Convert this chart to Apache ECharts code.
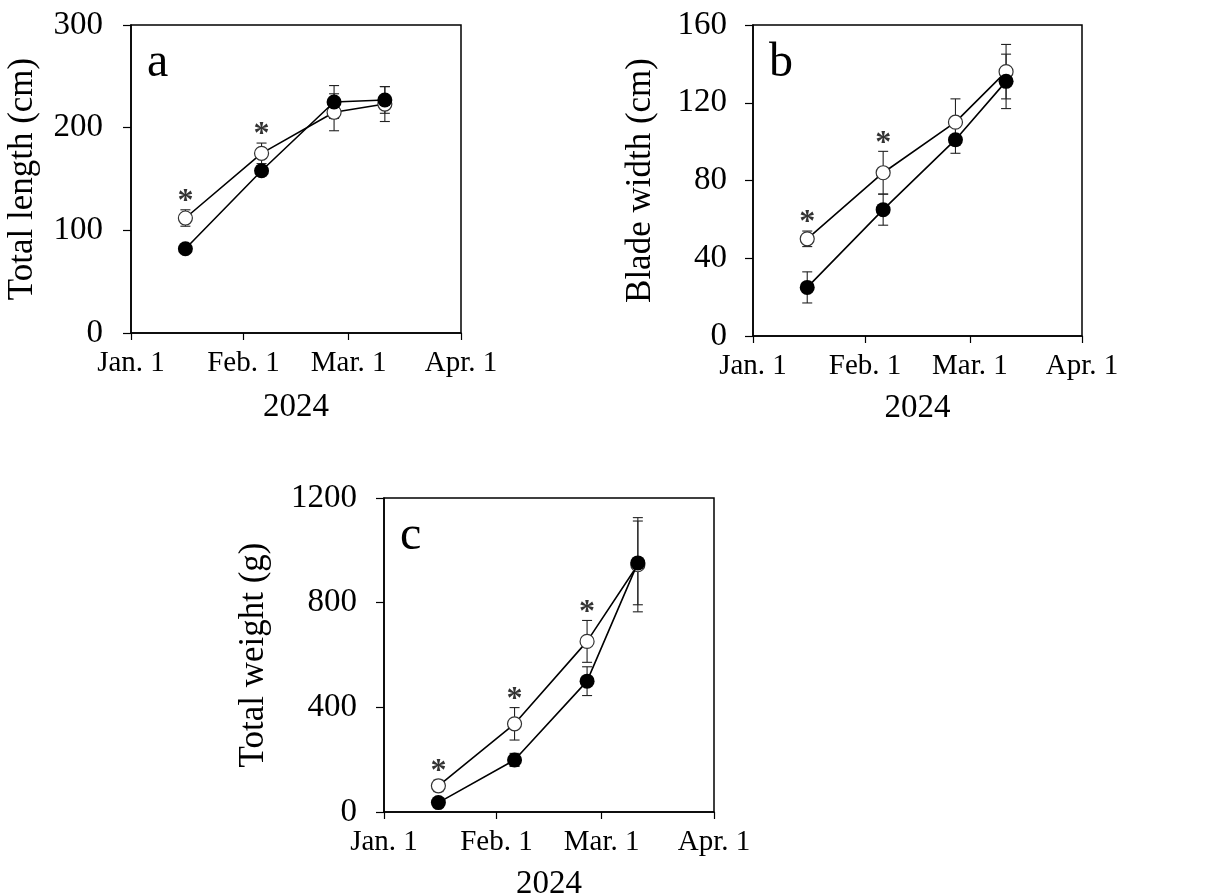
<!DOCTYPE html>
<html>
<head>
<meta charset="utf-8">
<script src="https://cdn.jsdelivr.net/npm/echarts@6/dist/echarts.min.js"></script>
<style>
  html, body { margin: 0; padding: 0; background: #fff; }
  #chart { width: 1208px; height: 895px; }
</style>
</head>
<body>
<div id="chart"></div>
<script>
// sampling dates, days after Jan. 1 2024
const sampleDays = [15, 36, 56, 70];
const xTickDays = [0, 31, 60, 91];
const xTickLabels = ['Jan. 1', 'Feb. 1', 'Mar. 1', 'Apr. 1'];

// a: total length (cm)
const lengthOpen = [112, 175, 215, 223];
const lengthOpenErr = [8, 10, 18, 17];
const lengthFilled = [82, 158, 225, 227];
const lengthFilledErr = [3, 5, 16, 13];
const lengthSig = [true, true, false, false];

// b: blade width (cm)
const widthOpen = [50, 84, 110, 136];
const widthOpenErr = [4, 11, 12, 14];
const widthFilled = [25, 65, 101, 131];
const widthFilledErr = [8, 8, 7, 14];
const widthSig = [true, true, false, false];

// c: total weight (g)
const weightOpen = [100, 337, 652, 945];
const weightOpenErr = [22, 62, 80, 180];
const weightFilled = [36, 199, 500, 952];
const weightFilledErr = [10, 25, 55, 160];
const weightSig = [true, true, true, false];

const font = '"Liberation Serif", "Times New Roman", serif';

const panels = [
  { letter: 'a', name: 'Total length (cm)', max: 300, step: 100,
    open: lengthOpen, openErr: lengthOpenErr, filled: lengthFilled, filledErr: lengthFilledErr, sig: lengthSig,
    grid: { left: 131, top: 25, width: 330, height: 308 }, nameGap: 91, labelMargin: 28, xNameGap: 58 },
  { letter: 'b', name: 'Blade width (cm)', max: 160, step: 40,
    open: widthOpen, openErr: widthOpenErr, filled: widthFilled, filledErr: widthFilledErr, sig: widthSig,
    grid: { left: 753, top: 25, width: 329, height: 311 }, nameGap: 95, labelMargin: 26, xNameGap: 56 },
  { letter: 'c', name: 'Total weight (g)', max: 1200, step: 400,
    open: weightOpen, openErr: weightOpenErr, filled: weightFilled, filledErr: weightFilledErr, sig: weightSig,
    grid: { left: 384, top: 498, width: 330, height: 314 }, nameGap: 113, labelMargin: 27, xNameGap: 56 }
];

const grids = [], xAxes = [], yAxes = [], series = [], titles = [];

function errorSeries(i, vals, errs) {
  return {
    type: 'custom', xAxisIndex: i, yAxisIndex: i, z: 1, silent: true,
    data: sampleDays.map((d, k) => [d, vals[k] - errs[k], vals[k] + errs[k]]),
    renderItem: function (params, api) {
      const lo = api.coord([api.value(0), api.value(1)]);
      const hi = api.coord([api.value(0), api.value(2)]);
      const w = 5;
      const st = { stroke: '#222', lineWidth: 1.1 };
      return { type: 'group', children: [
        { type: 'line', shape: { x1: lo[0], y1: lo[1], x2: hi[0], y2: hi[1] }, style: st },
        { type: 'line', shape: { x1: lo[0] - w, y1: lo[1], x2: lo[0] + w, y2: lo[1] }, style: st },
        { type: 'line', shape: { x1: hi[0] - w, y1: hi[1], x2: hi[0] + w, y2: hi[1] }, style: st }
      ] };
    }
  };
}

panels.forEach(function (p, i) {
  grids.push(Object.assign({ show: true, borderColor: '#000', borderWidth: 1.5, backgroundColor: 'transparent',
    containLabel: false, outerBoundsMode: 'none' }, p.grid));
  xAxes.push({
    type: 'value', gridIndex: i, min: 0, max: 91,
    name: '2024', nameLocation: 'middle', nameGap: p.xNameGap,
    nameTextStyle: { fontFamily: font, fontSize: 33, color: '#000' },
    axisLine: { show: true, lineStyle: { color: '#000', width: 1.5 } },
    axisTick: { show: true, length: 7, customValues: xTickDays, lineStyle: { color: '#000', width: 1.2 } },
    axisLabel: { customValues: xTickDays, margin: 16, fontFamily: font, fontSize: 29, color: '#000',
      formatter: function (v) { return xTickLabels[xTickDays.indexOf(v)]; } },
    splitLine: { show: false }
  });
  yAxes.push({
    type: 'value', gridIndex: i, min: 0, max: p.max, interval: p.step,
    name: p.name, nameLocation: 'middle', nameGap: p.nameGap,
    nameTextStyle: { fontFamily: font, fontSize: 35, color: '#000' },
    axisLine: { show: true, lineStyle: { color: '#000', width: 1.5 } },
    axisTick: { show: true, length: 8, lineStyle: { color: '#000', width: 1.2 } },
    axisLabel: { margin: p.labelMargin, fontFamily: font, fontSize: 33, color: '#000',
      formatter: function (v) { return String(v); } },
    splitLine: { show: false }
  });
  titles.push({ text: p.letter, left: p.grid.left + 11, top: p.grid.top + 9,
    textStyle: { fontFamily: font, fontSize: 48, fontWeight: 'normal', color: '#000' } });

  series.push(errorSeries(i, p.open, p.openErr));
  series.push(errorSeries(i, p.filled, p.filledErr));
  series.push({
    type: 'line', xAxisIndex: i, yAxisIndex: i, z: 3,
    data: sampleDays.map((d, k) => [d, p.open[k]]),
    symbol: 'circle', symbolSize: 14,
    lineStyle: { color: '#000', width: 1.6 },
    itemStyle: { color: '#fff', borderColor: '#333', borderWidth: 1.2 }
  });
  series.push({
    type: 'line', xAxisIndex: i, yAxisIndex: i, z: 4,
    data: sampleDays.map((d, k) => [d, p.filled[k]]),
    symbol: 'circle', symbolSize: 15,
    lineStyle: { color: '#000', width: 1.6 },
    itemStyle: { color: '#000', borderColor: '#000', borderWidth: 0 }
  });
  series.push({
    type: 'scatter', xAxisIndex: i, yAxisIndex: i, z: 5, silent: true,
    data: sampleDays.map((d, k) => [d, p.open[k] + p.openErr[k]]).filter((_, k) => p.sig[k]),
    symbolSize: 0,
    label: { show: true, position: 'top', distance: -8, formatter: '*',
      fontFamily: font, fontSize: 32, fontWeight: 'bold', color: '#000' }
  });
});

const chart = echarts.init(document.getElementById('chart'), null, { renderer: 'canvas' });
chart.setOption({
  animation: false,
  backgroundColor: '#fff',
  title: titles,
  grid: grids,
  xAxis: xAxes,
  yAxis: yAxes,
  series: series
});
</script>
</body>
</html>
